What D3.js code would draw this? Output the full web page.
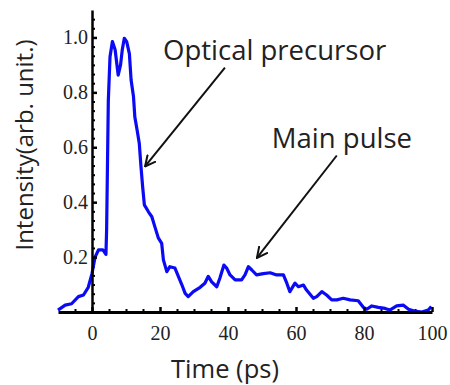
<!DOCTYPE html>
<html>
<head>
<meta charset="utf-8">
<script src="https://cdn.jsdelivr.net/npm/d3@7"></script>
<style>
  html, body { margin: 0; padding: 0; background: #fff; }
  svg { display: block; }
</style>
</head>
<body>
<svg id="chart" width="450" height="385"></svg>
<script>
// Measured time-resolved intensity trace
const timePs = [-10, -7.9, -6, -4, -2.5, -1.1, 0, 0.9, 1.9, 3.2, 4.1, 4.3, 4.8, 5.3, 6, 6.8, 7.7, 8.4, 8.9, 9.5,
  10.2, 11, 11.5, 12.2, 12.6, 13.3, 13.9, 14.4, 14.9, 15.4, 16.6, 17.6, 18.5, 19.5, 20.5, 21, 22, 22.9, 24.4, 25.4,
  26.4, 27.4, 28.3, 29.8, 31.8, 33.2, 34.2, 35.2, 36.7, 37.6, 38.8, 39.6, 40.6, 42.1, 44, 45, 46, 47, 48.4, 50.4,
  52.4, 54.3, 56.3, 57.3, 58.2, 59.7, 60.7, 62.2, 63.1, 65.1, 66.1, 67.6, 69, 70.5, 72, 73.9, 75.9, 78.3, 79.8, 80.8,
  82.3, 84.2, 86.2, 87.6, 89.6, 91.6, 93.1, 95, 97, 98.9, 99.8];
const intensity = [0.007, 0.025, 0.03, 0.056, 0.062, 0.09, 0.14, 0.2, 0.226, 0.226, 0.21, 0.3, 0.77, 0.93, 0.985, 0.955, 0.863, 0.9, 0.955, 0.997,
  0.985, 0.94, 0.845, 0.785, 0.71, 0.66, 0.615, 0.53, 0.456, 0.39, 0.365, 0.347, 0.31, 0.27, 0.25, 0.19, 0.147, 0.165, 0.16, 0.13,
  0.1, 0.068, 0.056, 0.074, 0.09, 0.105, 0.13, 0.11, 0.092, 0.123, 0.171, 0.16, 0.135, 0.117, 0.117, 0.135, 0.165, 0.153, 0.135, 0.14,
  0.143, 0.135, 0.135, 0.105, 0.074, 0.105, 0.092, 0.098, 0.08, 0.05, 0.056, 0.074, 0.062, 0.044, 0.044, 0.05, 0.044, 0.041, 0.017, 0.01,
  0.022, 0.017, 0.013, 0.007, 0.022, 0.025, 0.01, 0.003, 0.0, 0.007, 0.02];

const xTickValues = [0, 20, 40, 60, 80, 100];
const xMinorTicks = [-5, 5, 10, 15, 25, 30, 35, 45, 50, 55, 65, 70, 75, 85, 90, 95];
const yTickValues = [0.2, 0.4, 0.6, 0.8, 1.0];
const yMinorTicks = d3.range(0, 33).map(i => i / 30).filter(v => Math.abs(v * 5 - Math.round(v * 5)) > 1e-6);

// Annotations: label text, label anchor, arrow start and arrow tip (data units)
const annotationText = ["Optical precursor", "Main pulse"];
const annotationLabelAt = [[20.9, 0.918], [52.9, 0.597]];
const annotationArrowFrom = [[39.1, 0.89], [72.0, 0.57]];
const annotationArrowTo = [[15.6, 0.53], [48.5, 0.197]];

const svg = d3.select("#chart");
const x = d3.scaleLinear().domain([-10, 100]).range([58, 432]);
const y = d3.scaleLinear().domain([0, 1.1]).range([312, 10]);

const serif = "'Liberation Serif', 'Times New Roman', serif";
const sans = "'Open Sans', Lato, sans-serif";

// Minor ticks (inward)
svg.append("g")
  .attr("transform", `translate(0,${y(0)})`)
  .call(d3.axisBottom(x).tickValues(xMinorTicks).tickSize(-3).tickSizeOuter(0).tickFormat(""))
  .call(g => g.select(".domain").remove())
  .call(g => g.selectAll(".tick line").attr("stroke", "#000").attr("stroke-width", 2));
svg.append("g")
  .attr("transform", `translate(${x(0)},0)`)
  .call(d3.axisLeft(y).tickValues(yMinorTicks).tickSize(-3).tickSizeOuter(0).tickFormat(""))
  .call(g => g.select(".domain").remove())
  .call(g => g.selectAll(".tick line").attr("stroke", "#000").attr("stroke-width", 2));

// Data curve
const pts = timePs.map((t, i) => [t, intensity[i]]);
svg.append("path")
  .datum(pts)
  .attr("fill", "none")
  .attr("stroke", "#0a0af5")
  .attr("stroke-width", 3.2)
  .attr("stroke-linejoin", "round")
  .attr("d", d3.line().x(d => x(d[0])).y(d => y(d[1])));

// Major axes
const xAxis = svg.append("g")
  .attr("transform", `translate(0,${y(0)})`)
  .call(d3.axisBottom(x).tickValues(xTickValues).tickSize(-5).tickSizeOuter(0).tickPadding(14).tickFormat(d3.format("d")));
xAxis.select(".domain").attr("stroke", "#000").attr("stroke-width", 3);
xAxis.selectAll(".tick line").attr("stroke", "#000").attr("stroke-width", 2.5);
xAxis.selectAll("text").attr("font-family", serif).attr("font-size", 20).attr("fill", "#222");

const yAxis = svg.append("g")
  .attr("transform", `translate(${x(0)},0)`)
  .call(d3.axisLeft(y).tickValues(yTickValues).tickSize(-5).tickSizeOuter(0).tickPadding(4).tickFormat(d3.format(".1f")));
yAxis.select(".domain").attr("stroke", "#000").attr("stroke-width", 2.5);
yAxis.selectAll(".tick line").attr("stroke", "#000").attr("stroke-width", 2.5);
yAxis.selectAll("text").attr("font-family", serif).attr("font-size", 20).attr("fill", "#222");

// Axis titles
svg.append("text")
  .attr("x", 225).attr("y", 378)
  .attr("text-anchor", "middle")
  .attr("font-family", sans).attr("font-size", 25.5).attr("fill", "#222")
  .text("Time (ps)");
svg.append("text")
  .attr("transform", "translate(33,145) rotate(-90)")
  .attr("text-anchor", "middle")
  .attr("font-family", sans).attr("font-size", 24).attr("fill", "#222")
  .text("Intensity(arb. unit.)");

// Arrow annotations
const defs = svg.append("defs");
defs.append("marker")
  .attr("id", "vhead")
  .attr("viewBox", "0 -6 12 12")
  .attr("refX", 11).attr("refY", 0)
  .attr("markerWidth", 12).attr("markerHeight", 12)
  .attr("markerUnits", "userSpaceOnUse")
  .attr("orient", "auto")
  .append("path")
  .attr("d", "M0,-5.5L11,0L0,5.5")
  .attr("fill", "none").attr("stroke", "#111").attr("stroke-width", 2);

annotationText.forEach((label, i) => {
  svg.append("line")
    .attr("x1", x(annotationArrowFrom[i][0])).attr("y1", y(annotationArrowFrom[i][1]))
    .attr("x2", x(annotationArrowTo[i][0])).attr("y2", y(annotationArrowTo[i][1]))
    .attr("stroke", "#111").attr("stroke-width", 2)
    .attr("marker-end", "url(#vhead)");
  svg.append("text")
    .attr("x", x(annotationLabelAt[i][0])).attr("y", y(annotationLabelAt[i][1]))
    .attr("font-family", sans).attr("font-size", 27.5).attr("fill", "#222")
    .text(label);
});
</script>
</body>
</html>
